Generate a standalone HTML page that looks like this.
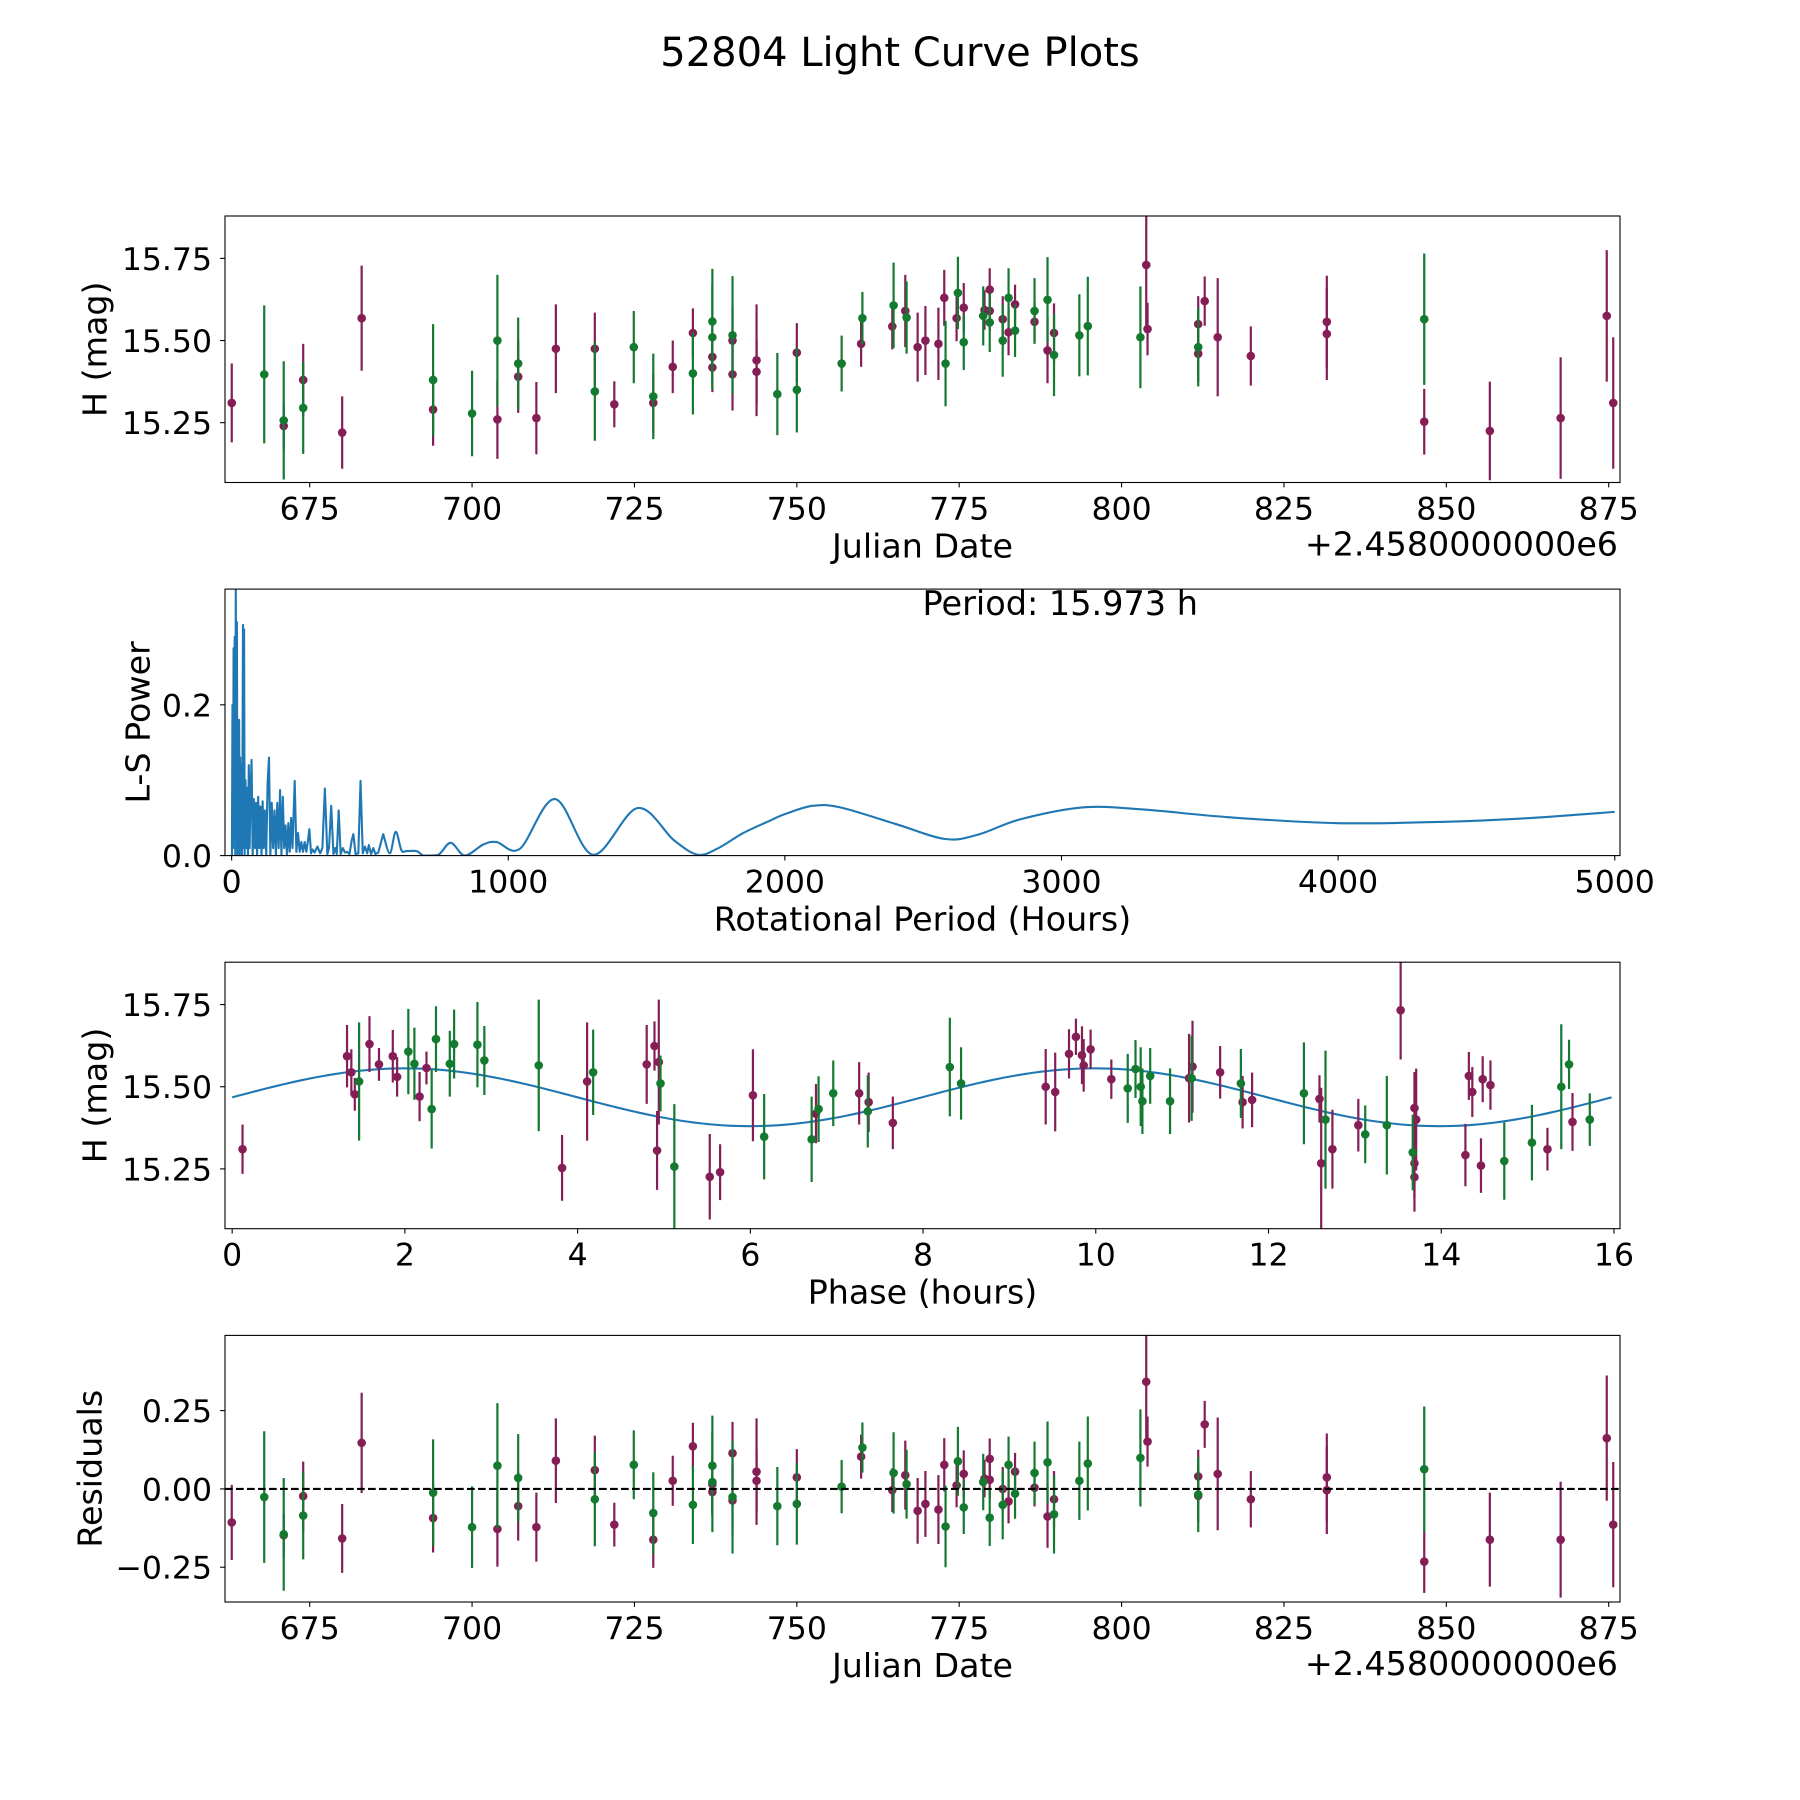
<!DOCTYPE html>
<html><head><meta charset="utf-8"><title>52804 Light Curve Plots</title>
<style>
html,body{margin:0;padding:0;background:#fff;}
svg{display:block;font-family:"DejaVu Sans","Liberation Sans",sans-serif;}
</style></head>
<body>
<svg id="fig" width="1800" height="1800" viewBox="0 0 1800 1800" xmlns="http://www.w3.org/2000/svg">
<rect width="1800" height="1800" fill="#fff"/>
<text x="900" y="66" font-size="40" text-anchor="middle">52804 Light Curve Plots</text>
</svg>
<script>
// ---- Panel 1 / 4 data (Julian date offset from 2458000) ----
const dates = [663.0,668.0,671.0,671.0,674.0,674.0,680.0,683.0,694.0,694.0,
700.0,703.9,703.9,707.1,707.1,709.9,712.9,718.9,718.9,721.9,
724.9,727.9,727.9,730.9,734.0,734.0,737.0,737.0,737.0,737.0,
740.1,740.1,740.1,743.8,743.8,747.0,750.0,750.0,756.9,759.9,
760.1,764.9,764.7,766.7,766.9,768.6,769.8,771.8,772.7,772.9,
774.6,774.8,775.7,775.7,778.9,778.7,779.7,779.7,779.7,781.7,
781.7,782.6,782.6,783.6,783.6,786.6,786.6,788.6,788.6,789.6,
789.6,793.5,794.8,802.9,803.8,804.0,811.8,811.8,811.8,812.8,
814.8,819.9,831.6,831.6,846.6,846.6,856.7,867.6,874.7,875.7];
const mags = [15.31,15.397,15.257,15.24,15.38,15.295,15.22,15.568,15.29,15.38,
15.278,15.50,15.26,15.43,15.39,15.264,15.475,15.345,15.475,15.306,
15.48,15.33,15.31,15.42,15.523,15.40,15.418,15.45,15.558,15.51,
15.397,15.516,15.50,15.44,15.405,15.337,15.35,15.463,15.43,15.49,
15.568,15.607,15.543,15.59,15.57,15.48,15.50,15.49,15.63,15.43,
15.568,15.645,15.6,15.495,15.593,15.575,15.655,15.59,15.555,15.565,
15.5,15.63,15.525,15.53,15.61,15.59,15.557,15.624,15.47,15.523,
15.456,15.516,15.544,15.51,15.73,15.535,15.55,15.48,15.46,15.62,
15.51,15.453,15.557,15.52,15.565,15.253,15.225,15.264,15.575,15.31];
const errs = [0.12,0.21,0.18,0.07,0.11,0.14,0.11,0.16,0.11,0.17,
0.13,0.2,0.12,0.14,0.11,0.11,0.135,0.15,0.11,0.07,
0.11,0.13,0.09,0.08,0.075,0.125,0.075,0.09,0.16,0.16,
0.11,0.18,0.1,0.17,0.1,0.125,0.13,0.09,0.085,0.07,
0.08,0.13,0.07,0.11,0.11,0.105,0.105,0.11,0.085,0.13,
0.07,0.11,0.075,0.085,0.06,0.09,0.065,0.06,0.09,0.07,
0.11,0.09,0.07,0.08,0.06,0.1,0.06,0.13,0.1,0.09,
0.125,0.125,0.15,0.155,0.2,0.08,0.085,0.12,0.085,0.075,
0.18,0.09,0.14,0.14,0.2,0.1,0.15,0.185,0.2,0.2];
const bands = "PGGPPGPPPGGGPGPPPGPPGGPPPGPPGGPGPPPGGPGPGGPPGPPPPGPGPGPGPPGPGGPGPGPGPPGGGGPPPGPPPPPPGPPPPP";
const resid = [-0.107,-0.026,-0.145,-0.148,-0.023,-0.085,-0.158,0.147,-0.093,-0.012,
-0.122,0.074,-0.128,0.035,-0.055,-0.122,0.09,-0.033,0.06,-0.114,
0.077,-0.077,-0.162,0.026,0.136,-0.051,-0.01,0.015,0.074,0.022,
-0.037,-0.026,0.114,0.055,0.026,-0.055,-0.048,0.037,0.007,0.103,
0.132,0.051,-0.004,0.044,0.015,-0.07,-0.048,-0.066,0.077,-0.12,
0.011,0.088,0.048,-0.059,0.033,0.022,0.096,0.029,-0.092,0.0,
-0.051,0.077,-0.04,-0.015,0.055,0.051,0.004,0.085,-0.088,-0.033,
-0.081,0.026,0.081,0.099,0.342,0.151,0.04,-0.018,-0.022,0.206,
0.048,-0.033,0.037,-0.004,0.063,-0.232,-0.162,-0.162,0.162,-0.114];
const dateTicks = [675,700,725,750,775,800,825,850,875];
const magTicks = [15.25,15.50,15.75];
const magTickLabels = ["15.25","15.50","15.75"];
const residTicks = [-0.25,0,0.25];
const residTickLabels = ["\u22120.25","0.00","0.25"];

// ---- Panel 2: Lomb-Scargle periodogram ----
const noisePeriods = [1,3,5,7,9,11,13,15,17,19,
21,23,25,27,29,31,33,35,37,39,
41,43,45,47,50,53,56,59,62,65,
68,72,76,80,84,88,92,96,100,104,
108,112,116,120,125,130,135,140,145,150,
155,160,165,170,175,180,185,190,195,200,
205,210,215,220,228,234,240,246,252,258,
264,270,276,281,287,293,300,310,320,328,
337,346,352,360,368,374,380,387,394,402,
410,418,426,434,440,448,458,466,474,482,
490,496,504,512,520,530];
const noisePower = [0.0,0.20,0.01,0.275,0.02,0.29,0.0,0.36,0.01,0.31,
0.0,0.18,0.01,0.18,0.0,0.13,0.02,0.12,0.0,0.10,
0.306,0.01,0.30,0.0,0.10,0.01,0.09,0.0,0.12,0.01,
0.08,0.127,0.0,0.075,0.01,0.07,0.0,0.078,0.01,0.065,
0.0,0.072,0.01,0.06,0.0,0.096,0.13,0.0,0.07,0.01,
0.06,0.0,0.07,0.01,0.087,0.0,0.078,0.01,0.04,0.0,
0.043,0.005,0.05,0.01,0.099,0.005,0.03,0.005,0.018,0.005,
0.018,0.005,0.02,0.035,0.003,0.008,0.004,0.012,0.003,0.01,
0.089,0.002,0.01,0.066,0.002,0.01,0.002,0.06,0.002,0.01,
0.004,0.005,0.002,0.02,0.0285,0.002,0.003,0.099,0.003,0.012,
0.003,0.014,0.002,0.01,0.002,0.004];
const smoothPeriods = [548,572,593,614,633,669,695,747,792,843,910,958,1042,1169,1307,1467,1600,1687,1760,1850,1950,2000,2100,2200,2400,2580,2700,2850,3080,3300,3600,4000,4400,4700,5000];
const smoothPower = [0.0285,0.003,0.0316,0.007,0.006,0.006,0.0,0.001,0.017,0.0,0.0147,0.018,0.009,0.075,0.001,0.063,0.02,0.001,0.01,0.03,0.047,0.055,0.066,0.064,0.042,0.022,0.028,0.048,0.064,0.061,0.051,0.043,0.045,0.05,0.058];
const periodTicks = [0,1000,2000,3000,4000,5000];
const powerTicks = [0.0,0.2];
const powerTickLabels = ["0.0","0.2"];
const bestPeriod = "15.973";

// ---- Panel 3: phased light curve ----
const phases = [0.12,1.33,1.38,1.42,1.47,1.59,1.70,1.86,1.91,2.04,
2.11,2.17,2.25,2.31,2.36,2.52,2.57,2.84,2.92,3.55,
3.82,4.11,4.18,4.80,4.89,4.94,4.92,4.96,5.12,5.53,
5.65,6.03,6.16,6.71,6.76,6.79,6.96,7.26,7.36,7.37,
7.65,8.31,8.44,9.42,9.53,9.69,9.77,9.84,9.86,9.94,
10.18,10.37,10.46,10.52,10.54,10.63,10.86,11.08,11.11,11.12,
11.44,11.68,11.70,11.81,12.41,12.59,12.61,12.66,12.74,13.04,
13.12,13.37,13.53,13.67,13.69,13.69,13.69,13.71,14.28,14.32,
14.36,14.46,14.48,14.57,14.73,15.05,15.23,15.39,15.48,15.52,15.72];
const phaseMags = [15.31,15.593,15.544,15.477,15.516,15.63,15.568,15.593,15.53,15.607,
15.57,15.47,15.557,15.432,15.645,15.57,15.63,15.628,15.58,15.565,
15.253,15.516,15.544,15.568,15.624,15.575,15.306,15.51,15.257,15.226,
15.24,15.474,15.348,15.34,15.418,15.432,15.48,15.48,15.425,15.453,
15.39,15.56,15.51,15.5,15.484,15.6,15.652,15.596,15.565,15.614,
15.523,15.495,15.554,15.5,15.456,15.533,15.456,15.526,15.526,15.561,
15.544,15.51,15.453,15.46,15.48,15.463,15.267,15.4,15.31,15.383,
15.355,15.383,15.733,15.3,15.267,15.435,15.225,15.4,15.292,15.533,
15.484,15.26,15.523,15.505,15.274,15.33,15.31,15.5,15.568,15.393,15.4];
const phaseErrs = [0.075,0.095,0.07,0.05,0.18,0.085,0.05,0.08,0.06,0.13,
0.11,0.075,0.05,0.12,0.1,0.1,0.105,0.13,0.105,0.2,
0.1,0.18,0.13,0.12,0.075,0.19,0.12,0.085,0.19,0.13,
0.085,0.14,0.13,0.13,0.09,0.1,0.1,0.095,0.11,0.09,
0.08,0.15,0.11,0.115,0.12,0.075,0.055,0.088,0.08,0.06,
0.06,0.105,0.088,0.12,0.1,0.085,0.1,0.135,0.13,0.14,
0.08,0.105,0.08,0.083,0.155,0.072,0.23,0.21,0.12,0.08,
0.088,0.15,0.15,0.115,0.105,0.11,0.105,0.155,0.095,0.073,
0.076,0.083,0.07,0.075,0.118,0.115,0.065,0.19,0.075,0.088,0.08];
const phaseBands = "PPPPGPPPPGGPPGGGGGGGPPGPPPPGGPPPGGPGGPGPPGGPPPPPPPPGGGGGGPGPPGPPGPPGPPGGPGPPPPPPPPPPGGPGGPG";
const phaseTicks = [0,2,4,6,8,10,12,14,16];
// sinusoidal model fit: mean, amplitude, peak phase, period in hours
const fitMean = [15.468];
const fitAmp = [0.088];
const fitPeak = [2.0];
const fitPeriod = [15.973];

const NS = "http://www.w3.org/2000/svg";
const svg = document.getElementById("fig");
const PURPLE = "#851e57", GREEN = "#137a30", BLUE = "#1f77b4";
const L = 225, R = 1620;
const TICKFS = 31.5, LABELFS = 33.3;

function mk(tag, attrs, parent) {
  const e = document.createElementNS(NS, tag);
  for (const k in attrs) e.setAttribute(k, attrs[k]);
  (parent || svg).appendChild(e);
  return e;
}
function lin(d0, d1, r0, r1) { return v => r0 + (v - d0) * (r1 - r0) / (d1 - d0); }

function makeAxes(name, top, bottom, xs, ys, xTicks, xLabels, yTicks, yLabels, xTitle, yTitle, yTitleX) {
  const g = mk("g", {});
  
  
  const cp = mk("clipPath", { id: name + "-clip" }, g);
  mk("rect", { x: L, y: top, width: R - L, height: bottom - top }, cp);
  const plot = mk("g", { "clip-path": "url(#" + name + "-clip)" }, g);
  
  
  xTicks.forEach((t, i) => {
    const x = xs(t);
    const tk = mk("line", { x1: x, x2: x, y1: bottom, y2: bottom + 4.9, stroke: "#000", "stroke-width": 1.1 }, g);
    
    
    const tl = mk("text", { x: x, y: bottom + 37, "font-size": TICKFS, "text-anchor": "middle" }, g);
    
    
    tl.textContent = xLabels[i];
  });
  yTicks.forEach((t, i) => {
    const y = ys(t);
    const tk = mk("line", { x1: L - 4.9, x2: L, y1: y, y2: y, stroke: "#000", "stroke-width": 1.1 }, g);
    
    
    const tl = mk("text", { x: L - 13, y: y + 11.5, "font-size": TICKFS, "text-anchor": "end" }, g);
    
    
    tl.textContent = yLabels[i];
  });
  const xt = mk("text", { x: (L + R) / 2, y: bottom + 75, "font-size": LABELFS, "text-anchor": "middle" }, g);
  
  
  xt.textContent = xTitle;
  const yc = (top + bottom) / 2;
  const yt = mk("text", { x: yTitleX, y: yc, "font-size": LABELFS, "text-anchor": "middle", "dominant-baseline": "central", transform: "rotate(-90 " + yTitleX + " " + yc + ")" }, g);
  
  
  yt.textContent = yTitle;
  return { g, plot, top, bottom };
}
function frame(ax) {
  const f = mk("rect", { x: L, y: ax.top, width: R - L, height: ax.bottom - ax.top, fill: "none", stroke: "#000", "stroke-width": 1.1 }, ax.g);
  
  
}
function offsetText(ax) {
  const t = mk("text", { x: R - 2, y: ax.bottom + 73, "font-size": LABELFS, "text-anchor": "end" }, ax.g);
  
  
  t.textContent = "+2.4580000000e6";
}
function errPoints(ax, xsArr, ysArr, esArr, bandStr, xs, ys, prefix) {
  ["P", "G"].forEach(b => {
    const col = b === "P" ? PURPLE : GREEN;
    xsArr.forEach((xv, i) => {
      if (bandStr[i] !== b) return;
      const x = xs(xv);
      const ln = mk("line", { x1: x, x2: x, y1: ys(ysArr[i] - esArr[i]), y2: ys(ysArr[i] + esArr[i]), stroke: col, "stroke-width": 2.2 }, ax.plot);
      
      
      const c = mk("circle", { cx: x, cy: ys(ysArr[i]), r: 4.3, fill: col }, ax.plot);
      
      
    });
  });
}

// Panel 1
const xDate = lin(661.96, 876.74, L, R);
const y1 = lin(15.068, 15.879, 482.5, 216);
const ax1 = makeAxes("light-curve-panel", 216, 482.5, xDate, y1, dateTicks, dateTicks.map(String), magTicks, magTickLabels, "Julian Date", "H (mag)", 95);
errPoints(ax1, dates, mags, errs, bands, xDate, y1, "light-curve");
frame(ax1); offsetText(ax1);

// Panel 2
const xPer = lin(-24, 5019, L, R);
const y2 = lin(0, 0.3535, 855.6, 589.1);
const ax2 = makeAxes("periodogram-panel", 589.1, 855.6, xPer, y2, periodTicks, periodTicks.map(String), powerTicks, powerTickLabels, "Rotational Period (Hours)", "L-S Power", 138);
(function () {
  let d = "";
  noisePeriods.forEach((p, i) => { d += (i ? "L" : "M") + xPer(p).toFixed(2) + "," + y2(noisePower[i]).toFixed(2); });
  const pts = smoothPeriods.map((p, i) => [xPer(p), y2(smoothPower[i])]);
  const base = y2(0);
  d += "L" + pts[0][0].toFixed(2) + "," + pts[0][1].toFixed(2);
  for (let i = 0; i < pts.length - 1; i++) {
    const p0 = pts[Math.max(0, i - 1)], p1 = pts[i], p2 = pts[i + 1], p3 = pts[Math.min(pts.length - 1, i + 2)];
    const c1 = [p1[0] + (p2[0] - p0[0]) / 6, Math.min(base, p1[1] + (p2[1] - p0[1]) / 6)];
    const c2 = [p2[0] - (p3[0] - p1[0]) / 6, Math.min(base, p2[1] - (p3[1] - p1[1]) / 6)];
    d += "C" + c1[0].toFixed(2) + "," + c1[1].toFixed(2) + " " + c2[0].toFixed(2) + "," + c2[1].toFixed(2) + " " + p2[0].toFixed(2) + "," + p2[1].toFixed(2);
  }
  const path = mk("path", { d: d, fill: "none", stroke: BLUE, "stroke-width": 2.1, "stroke-linejoin": "round" }, ax2.plot);
  
  
})();
frame(ax2);
const pt = mk("text", { x: 922.5, y: 615, "font-size": 33.5, "text-anchor": "start" }, ax2.g);


pt.textContent = "Period: " + bestPeriod + " h";

// Panel 3
const xPh = lin(-0.083, 16.07, L, R);
const y3 = lin(15.068, 15.879, 1228.7, 962.2);
const ax3 = makeAxes("phase-panel", 962.2, 1228.7, xPh, y3, phaseTicks, phaseTicks.map(String), magTicks, magTickLabels, "Phase (hours)", "H (mag)", 95);
(function () {
  let d = "";
  const n = 200;
  for (let i = 0; i <= n; i++) {
    const ph = fitPeriod[0] * i / n;
    const m = fitMean[0] + fitAmp[0] * Math.cos(2 * Math.PI * (ph - fitPeak[0]) / (fitPeriod[0] / 2));
    d += (i ? "L" : "M") + xPh(ph).toFixed(2) + "," + y3(m).toFixed(2);
  }
  const path = mk("path", { d: d, fill: "none", stroke: BLUE, "stroke-width": 2.1 }, ax3.plot);
  
  
})();
errPoints(ax3, phases, phaseMags, phaseErrs, phaseBands, xPh, y3, "phased");
frame(ax3);

// Panel 4
const y4 = lin(-0.361, 0.49, 1602, 1335.4);
const ax4 = makeAxes("residuals-panel", 1335.4, 1602, xDate, y4, dateTicks, dateTicks.map(String), residTicks, residTickLabels, "Julian Date", "Residuals", 90);
errPoints(ax4, dates, resid, errs, bands, xDate, y4, "residual");
const zl = mk("line", { x1: L, x2: R, y1: y4(0), y2: y4(0), stroke: "#000", "stroke-width": 2.1, "stroke-dasharray": "7.7,3.3" }, ax4.plot);


frame(ax4); offsetText(ax4);
</script>
</body></html>
